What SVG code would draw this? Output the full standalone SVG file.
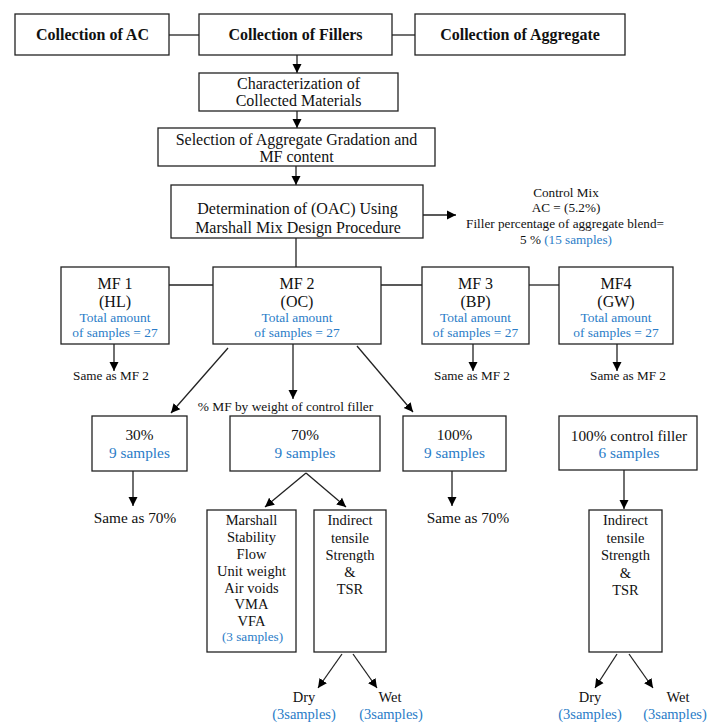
<svg xmlns="http://www.w3.org/2000/svg" width="708" height="727" viewBox="0 0 708 727" font-family="Liberation Serif, serif">
<defs>
<marker id="ah" markerUnits="userSpaceOnUse" markerWidth="10" markerHeight="10" viewBox="0 0 10 10" refX="9" refY="5" orient="auto">
<path d="M0,0.5 L9,5 L0,9.5 z" fill="#000"/>
</marker>
</defs>
<style>
.box{fill:#fff;stroke:#222;stroke-width:1.3}
.ln{stroke:#222;stroke-width:1.3;fill:none}
.ar{stroke:#222;stroke-width:1.3;fill:none;marker-end:url(#ah)}
text{font-family:Liberation Serif, serif;fill:#111;text-anchor:middle}
.b{font-weight:bold;font-size:16px}
.t16{font-size:16px}
.t15{font-size:15.3px}
.t14{font-size:14.5px}
.t13{font-size:13.4px}
.t12{font-size:13.2px}
.bl{fill:#2a7cc7}
</style>
<rect width="708" height="727" fill="#fff"/>

<g id="connectors">
<line class="ln" x1="169" y1="35" x2="199" y2="35"/>
<line class="ln" x1="392" y1="35" x2="415" y2="35"/>
<line class="ar" x1="297" y1="55" x2="297" y2="73"/>
<line class="ar" x1="297" y1="111" x2="297" y2="128"/>
<line class="ar" x1="296" y1="166" x2="296" y2="185"/>
<line class="ar" x1="423" y1="215" x2="456" y2="215"/>
<line class="ln" x1="296" y1="238" x2="296" y2="267"/>
<line class="ln" x1="169" y1="285" x2="213" y2="285"/>
<line class="ln" x1="381" y1="285" x2="422" y2="285"/>
<line class="ln" x1="529" y1="285" x2="559" y2="285"/>
<line class="ar" x1="114" y1="344" x2="114" y2="371"/>
<line class="ar" x1="473" y1="344" x2="473" y2="371"/>
<line class="ar" x1="617" y1="344" x2="617" y2="371"/>
<line class="ar" x1="228" y1="348" x2="171" y2="413"/>
<line class="ar" x1="293" y1="344" x2="293" y2="399"/>
<line class="ar" x1="357" y1="346" x2="413" y2="412"/>
<line class="ar" x1="133" y1="471" x2="133" y2="506"/>
<line class="ar" x1="452" y1="471" x2="452" y2="506"/>
<line class="ar" x1="306" y1="473" x2="265" y2="507"/>
<line class="ar" x1="306" y1="473" x2="346" y2="507"/>
<line class="ar" x1="624" y1="470" x2="624" y2="509"/>
<line class="ar" x1="342" y1="654" x2="318" y2="688"/>
<line class="ar" x1="353" y1="654" x2="377" y2="688"/>
<line class="ar" x1="617" y1="654" x2="595" y2="688"/>
<line class="ar" x1="629" y1="654" x2="653" y2="688"/>
</g>

<g id="n-ac"><rect class="box" x="15" y="14" width="154" height="41"/><text class="b" x="92.5" y="40">Collection of AC</text></g>
<g id="n-fillers"><rect class="box" x="199" y="14" width="193" height="41"/><text class="b" x="295.5" y="40">Collection of Fillers</text></g>
<g id="n-aggregate"><rect class="box" x="415" y="14" width="210" height="41"/><text class="b" x="520" y="40">Collection of Aggregate</text></g>

<g id="n-char"><rect class="box" x="199" y="73" width="199" height="38"/>
<text class="t16" x="298.5" y="89">Characterization of</text>
<text class="t16" x="298.5" y="106">Collected Materials</text></g>

<g id="n-select"><rect class="box" x="158" y="128" width="277" height="38"/>
<text class="t16" x="296.5" y="145">Selection of Aggregate Gradation and</text>
<text class="t16" x="296.5" y="162">MF content</text></g>

<g id="n-oac"><rect class="box" x="171" y="185" width="252" height="53"/>
<text class="t16" x="297.5" y="214">Determination of (OAC) Using</text>
<text class="t16" x="298" y="233">Marshall Mix Design Procedure</text></g>

<g id="n-control">
<text class="t12" x="566" y="197">Control Mix</text>
<text class="t12" x="566" y="212">AC = (5.2%)</text>
<text class="t12" x="565" y="228">Filler percentage of aggregate blend=</text>
<text class="t12" x="566" y="244">5 % <tspan class="bl">(15 samples)</tspan></text></g>

<g id="n-mf1"><rect class="box" x="61" y="267" width="108" height="77"/>
<text class="t16" x="115" y="289">MF 1</text><text class="t16" x="115" y="307">(HL)</text>
<text class="t13 bl" x="115" y="322">Total amount</text><text class="t13 bl" x="115" y="337">of samples = 27</text></g>
<g id="n-mf2"><rect class="box" x="213" y="267" width="168" height="77"/>
<text class="t16" x="297" y="289">MF 2</text><text class="t16" x="297" y="307">(OC)</text>
<text class="t13 bl" x="297" y="322">Total amount</text><text class="t13 bl" x="297" y="337">of samples = 27</text></g>
<g id="n-mf3"><rect class="box" x="422" y="267" width="107" height="77"/>
<text class="t16" x="475.5" y="289">MF 3</text><text class="t16" x="475.5" y="307">(BP)</text>
<text class="t13 bl" x="475.5" y="322">Total amount</text><text class="t13 bl" x="475.5" y="337">of samples = 27</text></g>
<g id="n-mf4"><rect class="box" x="559" y="267" width="114" height="77"/>
<text class="t16" x="616" y="289">MF4</text><text class="t16" x="616" y="307">(GW)</text>
<text class="t13 bl" x="616" y="322">Total amount</text><text class="t13 bl" x="616" y="337">of samples = 27</text></g>

<g id="n-same1"><text class="t12" x="111" y="380">Same as MF 2</text></g>
<g id="n-same3"><text class="t12" x="472" y="380">Same as MF 2</text></g>
<g id="n-same4"><text class="t12" x="628" y="380">Same as MF 2</text></g>

<g id="n-mflabel"><text class="t13" x="285.5" y="411">% MF by weight of control filler</text></g>

<g id="n-30"><rect class="box" x="92" y="416" width="95" height="55"/>
<text class="t15" x="139.5" y="440">30%</text><text class="t15 bl" x="139.5" y="458">9 samples</text></g>
<g id="n-70"><rect class="box" x="230" y="416" width="150" height="55"/>
<text class="t15" x="305" y="440">70%</text><text class="t15 bl" x="305" y="458">9 samples</text></g>
<g id="n-100"><rect class="box" x="403" y="416" width="103" height="55"/>
<text class="t15" x="454.5" y="440">100%</text><text class="t15 bl" x="454.5" y="458">9 samples</text></g>
<g id="n-ctrl"><rect class="box" x="559" y="416" width="138" height="54"/>
<text class="t15" x="629" y="441">100% control filler</text><text class="t15 bl" x="629" y="458">6 samples</text></g>

<g id="n-same30"><text class="t15" x="135" y="523">Same as 70%</text></g>
<g id="n-same100"><text class="t15" x="468" y="523">Same as 70%</text></g>

<g id="n-marshall"><rect class="box" x="207" y="510" width="89" height="142"/>
<text class="t14" x="251.5" y="525">Marshall</text>
<text class="t14" x="251.5" y="542">Stability</text>
<text class="t14" x="251.5" y="559">Flow</text>
<text class="t14" x="251.5" y="576">Unit weight</text>
<text class="t14" x="251.5" y="593">Air voids</text>
<text class="t14" x="251.5" y="609">VMA</text>
<text class="t14" x="251.5" y="626">VFA</text>
<text class="t12 bl" x="252.5" y="641">(3 samples)</text></g>

<g id="n-its1"><rect class="box" x="314" y="510" width="72" height="142"/>
<text class="t14" x="350" y="525">Indirect</text>
<text class="t14" x="350" y="543">tensile</text>
<text class="t14" x="350" y="560">Strength</text>
<text class="t14" x="350" y="577">&amp;</text>
<text class="t14" x="350" y="594">TSR</text></g>

<g id="n-its2"><rect class="box" x="589" y="510" width="73" height="142"/>
<text class="t14" x="625.5" y="525">Indirect</text>
<text class="t14" x="625.5" y="543">tensile</text>
<text class="t14" x="625.5" y="560">Strength</text>
<text class="t14" x="625.5" y="578">&amp;</text>
<text class="t14" x="625.5" y="595">TSR</text></g>

<g id="n-dry1"><text class="t14" x="304" y="702">Dry</text><text class="t14 bl" x="304" y="719">(3samples)</text></g>
<g id="n-wet1"><text class="t14" x="390" y="702">Wet</text><text class="t14 bl" x="391" y="719">(3samples)</text></g>
<g id="n-dry2"><text class="t14" x="590" y="702">Dry</text><text class="t14 bl" x="590" y="719">(3samples)</text></g>
<g id="n-wet2"><text class="t14" x="678" y="702">Wet</text><text class="t14 bl" x="675" y="719">(3samples)</text></g>
</svg>
